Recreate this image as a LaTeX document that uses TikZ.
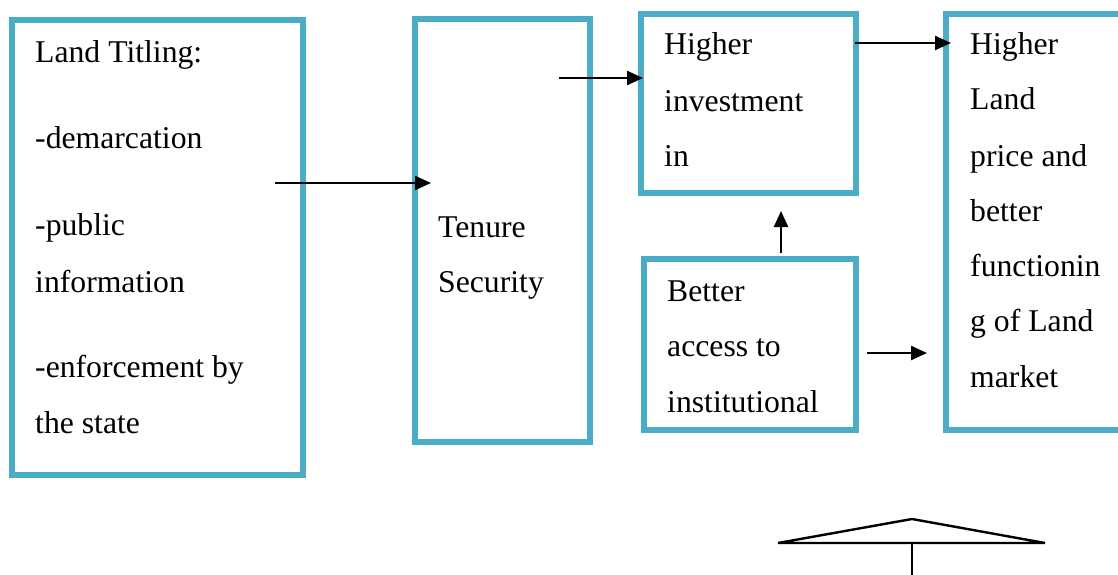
\documentclass[tikz,border=0pt]{standalone}
\usepackage{fontspec}
\setmainfont{Liberation Serif}
\usetikzlibrary{arrows.meta}
\definecolor{boxblue}{HTML}{4BACC6}
\tikzset{
  box/.style={draw=boxblue, line width=6pt, fill=white, inner sep=0pt, rectangle},
  txt/.style={anchor=base west, inner sep=0pt, font=\fontsize{31.7}{38}\selectfont},
  conn/.style={line width=2.4pt, -{Triangle[length=16pt,width=14pt]}},
  plain/.style={line width=2.4pt}
}
\begin{document}
\begin{tikzpicture}[x=1pt,y=-1pt]
\useasboundingbox (0,0) rectangle (1118,575);
\clip (0,0) rectangle (1118,575);
% boxes
\node[box, minimum width=291pt, minimum height=455pt] (b1) at (157.5,247.5) {};
\node[box, minimum width=175pt, minimum height=422pt] (b2) at (502,230.5) {};
\node[box, minimum width=215.5pt, minimum height=179pt] (b3) at (748.25,103.5) {};
\node[box, minimum width=212pt, minimum height=171pt] (b4) at (750,344.5) {};
\node[box, minimum width=179pt, minimum height=416pt] (b5) at (1035.5,222) {};
% texts
\node[txt] (t1a) at (35,63) {Land Titling:};
\node[txt] (t1b) at (35,148) {-demarcation};
\node[txt] (t1c) at (35,235) {-public};
\node[txt] (t1d) at (35,292) {information};
\node[txt] (t1e) at (35,377) {-enforcement by};
\node[txt] (t1f) at (35,433) {the state};
\node[txt] (t2a) at (438,237) {Tenure};
\node[txt] (t2b) at (438,292) {Security};
\node[txt] (t3a) at (664,55) {Higher};
\node[txt] (t3b) at (664,111) {investment};
\node[txt] (t3c) at (664,166) {in};
\node[txt] (t4a) at (667,301) {Better};
\node[txt] (t4b) at (667,356) {access to};
\node[txt] (t4c) at (667,412) {institutional};
\node[txt] (t5a) at (970,55) {Higher};
\node[txt] (t5b) at (970,110) {Land};
\node[txt] (t5c) at (970,166) {price and};
\node[txt] (t5d) at (970,221) {better};
\node[txt] (t5e) at (970,276) {functionin};
\node[txt] (t5f) at (970,331) {g of Land};
\node[txt] (t5g) at (970,387) {market};
% arrow end points
\coordinate (a1s) at (275,183);  \coordinate (a1e) at (431,183);
\coordinate (a2s) at (559,78);   \coordinate (a2e) at (643,78);
\coordinate (a3s) at (855,43);   \coordinate (a3e) at (951,43);
\coordinate (a4s) at (781,253);  \coordinate (a4e) at (781,211);
\coordinate (a5s) at (867,353);  \coordinate (a5e) at (927,353);
\draw[conn] (a1s) -- (a1e);
\draw[conn] (a2s) -- (a2e);
\draw[conn] (a3s) -- (a3e);
\draw[conn] (a4s) -- (a4e);
\draw[conn] (a5s) -- (a5e);
% triangle shape at bottom
\coordinate (apex) at (912,519);
\coordinate (bl) at (778,543);
\coordinate (br) at (1045,543);
\coordinate (stemtop) at (912,543);
\coordinate (stembot) at (912,580);
\draw[plain, line join=miter] (bl) -- (apex) -- (br) -- cycle;
\draw[plain] (stemtop) -- (stembot);
\end{tikzpicture}
\end{document}
